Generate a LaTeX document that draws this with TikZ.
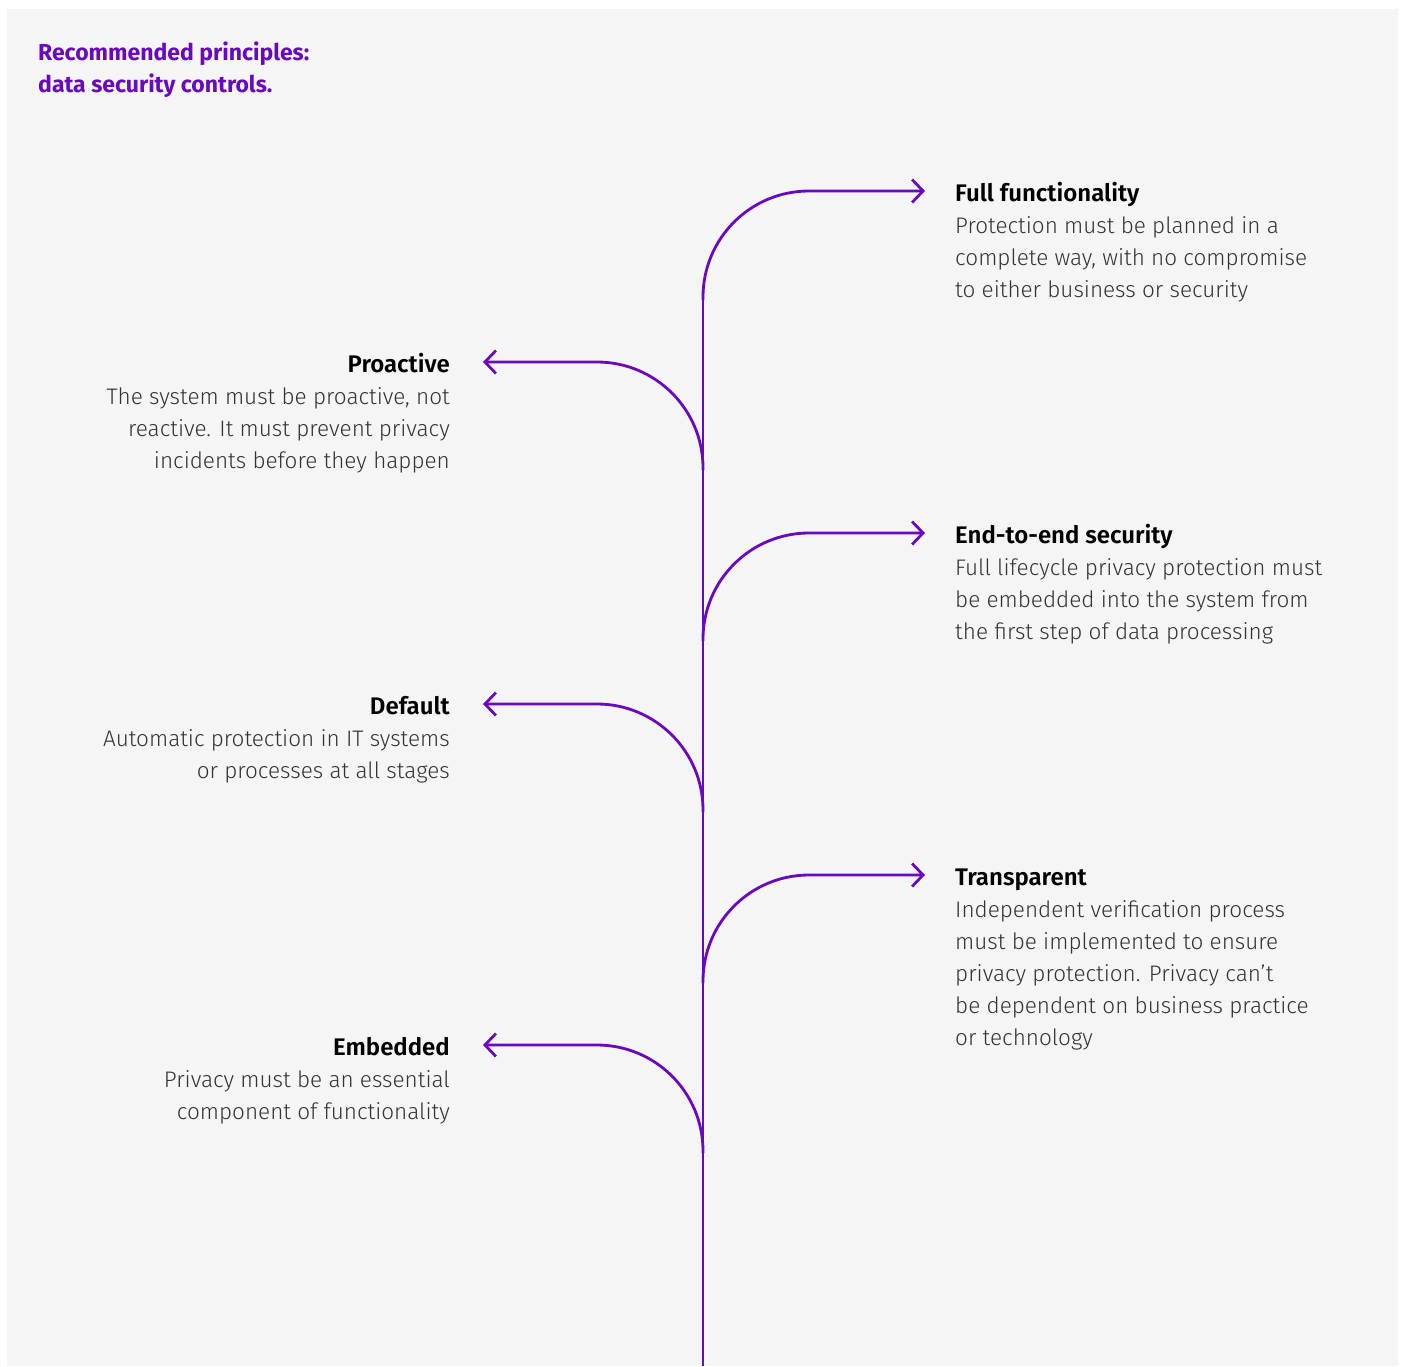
\documentclass[tikz,border=0pt]{standalone}
\usepackage{fontspec}
\setmainfont{Fira Sans Light}[BoldFont={Fira Sans SemiBold}]
\newfontfamily\titlefont{Fira Sans Bold}
\usetikzlibrary{arrows.meta}
\definecolor{violet}{HTML}{6A08BE}
\definecolor{bg}{HTML}{F5F5F5}
\definecolor{bodytext}{HTML}{333333}
\newcommand{\hd}[1]{{\fontsize{24}{32}\selectfont\bfseries\color{black}#1}}
\begin{document}
\begin{tikzpicture}[x=1pt,y=-1pt,
  trunk/.style={draw=violet,line width=2.8pt},
  branch/.style={draw=violet,line width=2.8pt,rounded corners=106pt,-{Straight Barb[length=11pt,width=23pt,line width=2.8pt]}},
  rtext/.style={anchor=base west,align=left,inner sep=0pt,text=bodytext,font=\fontsize{22.5}{32}\selectfont},
  ltext/.style={anchor=base east,align=right,inner sep=0pt,text=bodytext,font=\fontsize{22.5}{32}\selectfont}]
\useasboundingbox (0,0) rectangle (1402,1366);
\fill[white] (0,0) rectangle (1402,1366);
\fill[bg] (7,9) rectangle (1398,1366);
\node[anchor=base west,align=left,inner sep=0pt,text=violet,font=\fontsize{23}{32}\selectfont\titlefont] (title) at (38,92) {Recommended principles:\\data security controls.};
% trunk
\coordinate (top) at (703,296);
\coordinate (bot) at (703,1366);
\draw[trunk] (top) -- (bot);
% branch start points and tips
\coordinate (s1) at (703,300); \coordinate (t1) at (925,191);
\coordinate (s2) at (703,470); \coordinate (t2) at (483,362);
\coordinate (s3) at (703,641); \coordinate (t3) at (925,533);
\coordinate (s4) at (703,812); \coordinate (t4) at (483,704);
\coordinate (s5) at (703,983); \coordinate (t5) at (925,875);
\coordinate (s6) at (703,1153); \coordinate (t6) at (483,1045);
\draw[branch] (s1) |- (t1);
\draw[branch] (s2) |- (t2);
\draw[branch] (s3) |- (t3);
\draw[branch] (s4) |- (t4);
\draw[branch] (s5) |- (t5);
\draw[branch] (s6) |- (t6);
% texts (anchored at the baseline of the last line)
\node[rtext] (full) at (955,297) {\hd{Full functionality}\\Protection must be planned in a\\complete way, with no compromise\\to either business or security};
\node[ltext] (pro) at (450,468) {\hd{Proactive}\\The system must be proactive, not\\reactive. It must prevent privacy\\incidents before they happen};
\node[rtext] (e2e) at (955,639) {\hd{End-to-end security}\\Full lifecycle privacy protection must\\be embedded into the system from\\the first step of data processing};
\node[ltext] (def) at (450,778) {\hd{Default}\\Automatic protection in IT systems\\or processes at all stages};
\node[rtext] (tra) at (955,1045) {\hd{Transparent}\\Independent verification process\\must be implemented to ensure\\privacy protection. Privacy can’t\\be dependent on business practice\\or technology};
\node[ltext] (emb) at (450,1119) {\hd{Embedded}\\Privacy must be an essential\\component of functionality};
\end{tikzpicture}
\end{document}
